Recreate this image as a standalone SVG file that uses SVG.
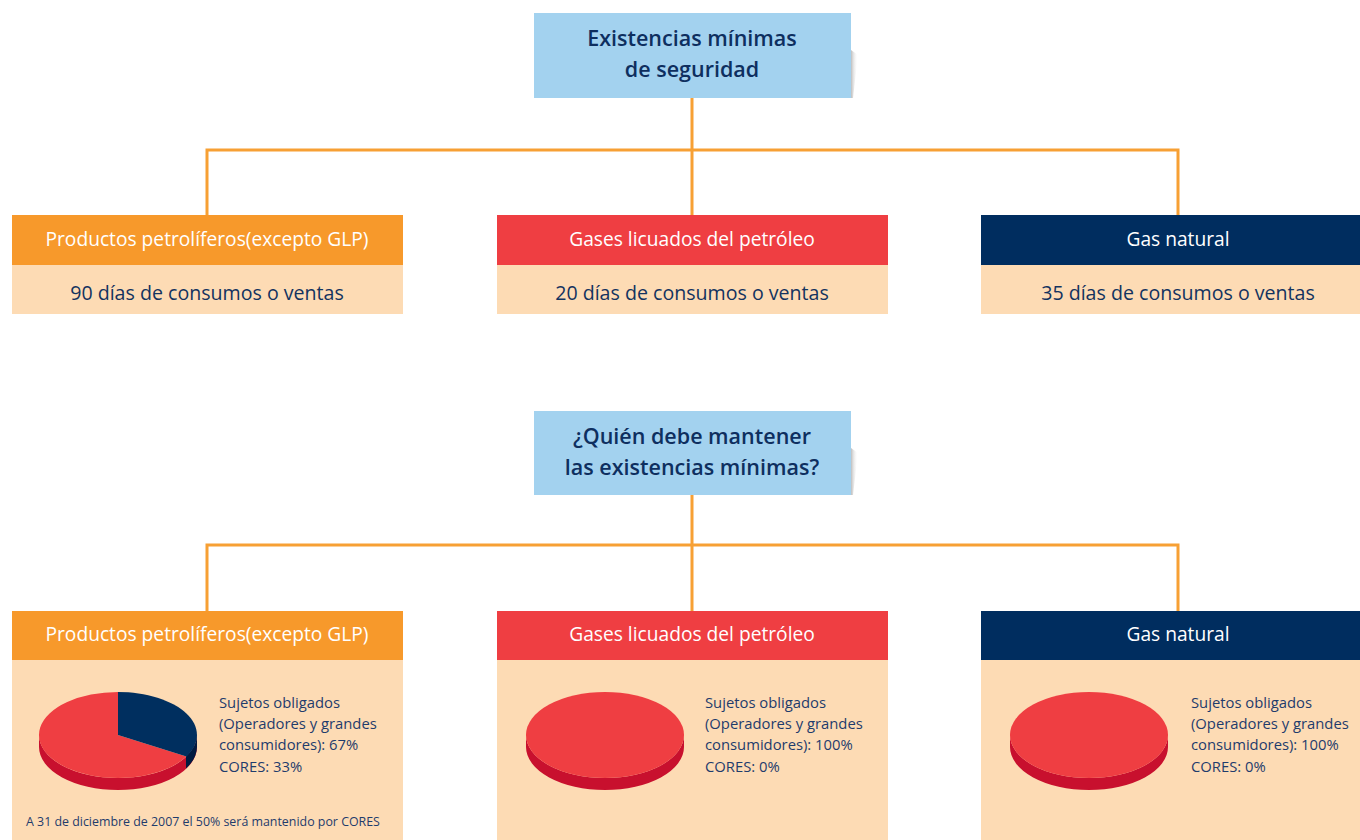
<svg xmlns="http://www.w3.org/2000/svg" width="1360" height="840" viewBox="0 0 1360 840">
<defs>
<linearGradient id="sh" x1="0" y1="0" x2="1" y2="0">
<stop offset="0" stop-color="#bdbdbd"/>
<stop offset="1" stop-color="#ffffff" stop-opacity="0"/>
</linearGradient>
<style>
.title{fill:#A3D2EF}
.tt{font-family:"Open Sans","Liberation Sans",sans-serif;font-size:21.5px;font-weight:600;fill:#0E2F5F;text-anchor:middle}
.hd{font-family:"Open Sans","Liberation Sans",sans-serif;font-size:19.2px;font-weight:500;fill:#ffffff;text-anchor:middle}
.bd{font-family:"Open Sans","Liberation Sans",sans-serif;font-size:19.6px;fill:#13335F;text-anchor:middle}
.sm{font-family:"Open Sans","Liberation Sans",sans-serif;font-size:14.8px;fill:#1F3C6C}
.ft{font-family:"Open Sans","Liberation Sans",sans-serif;font-size:12.4px;fill:#1F3C6C}
.body{fill:#FDDBB4}
.or{fill:#F7992B}.rd{fill:#EF3E42}.nv{fill:#002D5F}
.conn{stroke:#F7A034;stroke-width:3;fill:none}
.pr{fill:#EF3E42}.pd{fill:#C8102E}.pn{fill:#002F5F}.pnd{fill:#001A40}
</style>
</defs>
<rect width="1360" height="840" fill="#ffffff"/>
<g id="connectors">
<path class="conn" d="M692 98V150M207 216V150H1178V216M692 150V216"/>
<path class="conn" d="M692 495V545M207 612V545H1178V612M692 545V612"/>
</g>
<g id="title1">
<polygon points="851,50 858,55 853,98 851,98" fill="url(#sh)"/>
<rect class="title" x="534" y="13" width="317" height="85"/>
<text class="tt" x="692" y="46">Existencias mínimas</text>
<text class="tt" x="692" y="77">de seguridad</text>
</g>
<g id="n1">
<rect class="or" x="12" y="215" width="391" height="50"/>
<rect class="body" x="12" y="265" width="391" height="49"/>
<text class="hd" x="207" y="246">Productos petrolíferos(excepto GLP)</text>
<text class="bd" x="207" y="300">90 días de consumos o ventas</text>
</g>
<g id="n2">
<rect class="rd" x="497" y="215" width="391" height="50"/>
<rect class="body" x="497" y="265" width="391" height="49"/>
<text class="hd" x="692" y="246">Gases licuados del petróleo</text>
<text class="bd" x="692" y="300">20 días de consumos o ventas</text>
</g>
<g id="n3">
<rect class="nv" x="981" y="215" width="379" height="50"/>
<rect class="body" x="981" y="265" width="379" height="49"/>
<text class="hd" x="1178" y="246">Gas natural</text>
<text class="bd" x="1178" y="300">35 días de consumos o ventas</text>
</g>
<g id="title2">
<polygon points="851,448 858,453 853,495 851,495" fill="url(#sh)"/>
<rect class="title" x="534" y="411" width="317" height="84"/>
<text class="tt" x="692" y="444">¿Quién debe mantener</text>
<text class="tt" x="692" y="475">las existencias mínimas?</text>
</g>
<g id="m1">
<rect class="or" x="12" y="611" width="391" height="49"/>
<rect class="body" x="12" y="660" width="391" height="180"/>
<text class="hd" x="207" y="641">Productos petrolíferos(excepto GLP)</text>
<path class="pd" d="M39 735A79 43 0 0 0 197 735V747A79 43 0 0 1 39 747Z"/>
<path class="pnd" d="M186 756.5A79 43 0 0 0 197 735V747A79 43 0 0 1 186 768.5Z"/>
<path class="pr" d="M118 735L118 692A79 43 0 1 0 186.4 756.5Z"/>
<path class="pn" d="M118 735L118 692A79 43 0 0 1 186.4 756.5Z"/>
<text class="sm" x="219" y="708">Sujetos obligados</text>
<text class="sm" x="219" y="729">(Operadores y grandes</text>
<text class="sm" x="219" y="750">consumidores): 67%</text>
<text class="sm" x="219" y="772">CORES: 33%</text>
<text class="ft" x="26" y="826">A 31 de diciembre de 2007 el 50% será mantenido por CORES</text>
</g>
<g id="m2">
<rect class="rd" x="497" y="611" width="391" height="49"/>
<rect class="body" x="497" y="660" width="391" height="180"/>
<text class="hd" x="692" y="641">Gases licuados del petróleo</text>
<path class="pd" d="M526 735A79 43 0 0 0 684 735V747A79 43 0 0 1 526 747Z"/>
<ellipse class="pr" cx="605" cy="735" rx="79" ry="43"/>
<text class="sm" x="705" y="708">Sujetos obligados</text>
<text class="sm" x="705" y="729">(Operadores y grandes</text>
<text class="sm" x="705" y="750">consumidores): 100%</text>
<text class="sm" x="705" y="772">CORES: 0%</text>
</g>
<g id="m3">
<rect class="nv" x="981" y="611" width="379" height="49"/>
<rect class="body" x="981" y="660" width="379" height="180"/>
<text class="hd" x="1178" y="641">Gas natural</text>
<path class="pd" d="M1010 735A79 43 0 0 0 1168 735V747A79 43 0 0 1 1010 747Z"/>
<ellipse class="pr" cx="1089" cy="735" rx="79" ry="43"/>
<text class="sm" x="1191" y="708">Sujetos obligados</text>
<text class="sm" x="1191" y="729">(Operadores y grandes</text>
<text class="sm" x="1191" y="750">consumidores): 100%</text>
<text class="sm" x="1191" y="772">CORES: 0%</text>
</g>
</svg>
